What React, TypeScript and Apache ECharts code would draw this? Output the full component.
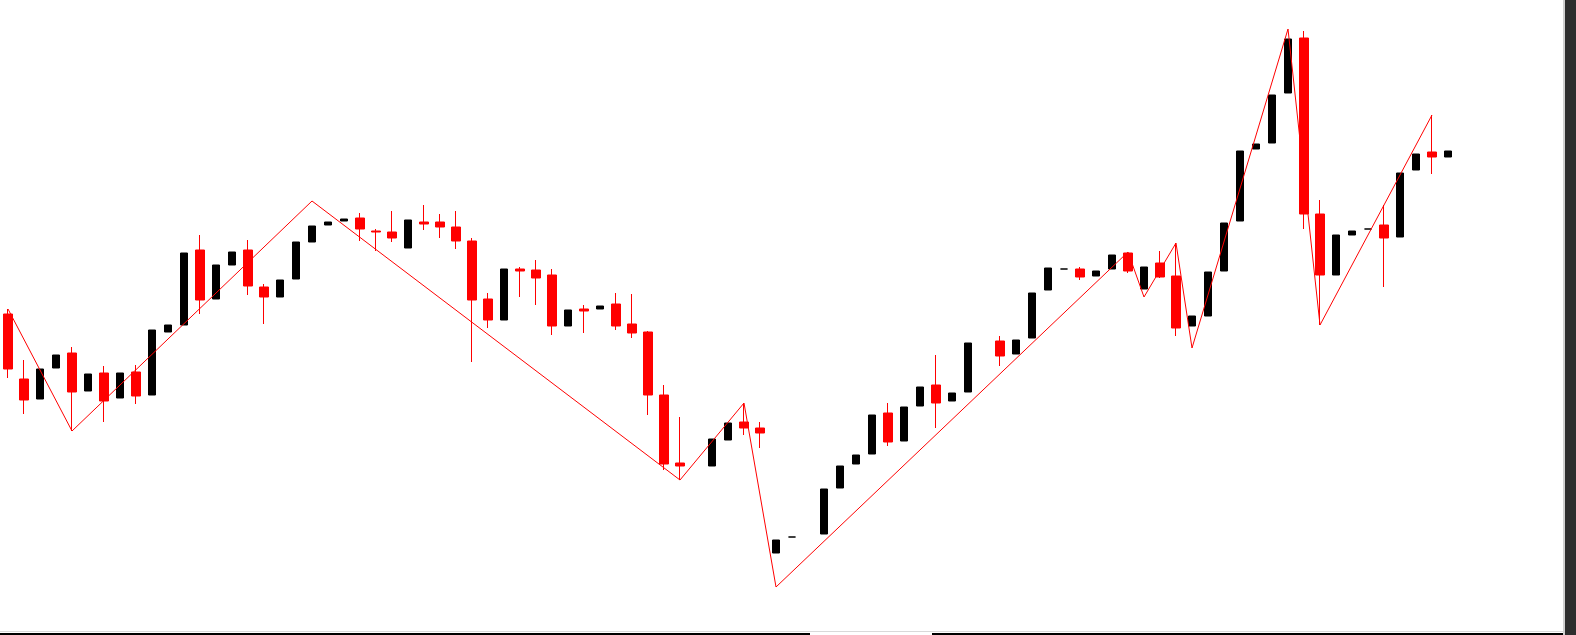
import { useEffect, useRef } from 'react';
import * as echarts from 'echarts';

// Bar prices (bar 0 = leftmost candle). null = no bar drawn at that slot.
const opens: (number | null)[] = [
  1.3321, 1.3256, 1.3236, 1.3267, 1.3282, 1.3244, 1.3262, 1.3237, 1.3263, 1.3240,
  1.3303, 1.3310, 1.3385, 1.3336, 1.3370, 1.3385, 1.3348, 1.3338, 1.3356, 1.3393,
  1.3410, 1.3414, 1.3417, 1.3404, 1.3403, 1.3387, 1.3413, 1.3413, 1.3408, 1.3394,
  1.3336, 1.3315, 1.3366, 1.3365, 1.3360, 1.3309, 1.3326, 1.3326, 1.3331, 1.3311,
  1.3303, 1.3240, 1.3172, null, 1.3169, 1.3195, 1.3213, 1.3207, 1.3082, 1.3098,
  null, 1.3101, 1.3147, 1.3171, 1.3181, 1.3222, 1.3194, 1.3229, 1.3250, 1.3234,
  1.3243, null, 1.3294, 1.3281, 1.3297, 1.3345, 1.3366, 1.3366, 1.3359, 1.3366,
  1.3382, 1.3346, 1.3372, 1.3359, 1.3309, 1.3319, 1.3364, 1.3414, 1.3486, 1.3492,
  1.3542, 1.3597, 1.3421, 1.3360, 1.3400, 1.3406, 1.3410, 1.3398, 1.3465, 1.3483,
  1.3478,
];
const closes: (number | null)[] = [
  1.3266, 1.3235, 1.3266, 1.3280, 1.3243, 1.3261, 1.3234, 1.3262, 1.3239, 1.3305,
  1.3310, 1.3382, 1.3335, 1.3370, 1.3383, 1.3349, 1.3338, 1.3355, 1.3393, 1.3409,
  1.3413, 1.3416, 1.3406, 1.3403, 1.3397, 1.3415, 1.3411, 1.3408, 1.3394, 1.3335,
  1.3315, 1.3366, 1.3364, 1.3357, 1.3309, 1.3325, 1.3324, 1.3329, 1.3309, 1.3302,
  1.3240, 1.3171, 1.3169, null, 1.3196, 1.3212, 1.3207, 1.3202, 1.3095, 1.3098,
  null, 1.3146, 1.3169, 1.3180, 1.3220, 1.3193, 1.3228, 1.3248, 1.3232, 1.3242,
  1.3292, null, 1.3279, 1.3295, 1.3342, 1.3367, 1.3366, 1.3358, 1.3364, 1.3380,
  1.3364, 1.3368, 1.3358, 1.3307, 1.3319, 1.3363, 1.3412, 1.3484, 1.3491, 1.3540,
  1.3596, 1.3421, 1.3360, 1.3400, 1.3404, 1.3406, 1.3397, 1.3462, 1.3481, 1.3478,
  1.3484,
];
// Wicks are only visible on falling (red) bars; null = not visible
const lows: (number | null)[] = [
  1.3257, 1.3221, null, null, 1.3204, null, 1.3213, null, 1.3231, null,
  null, null, 1.3321, null, null, 1.3340, 1.3311, null, null, null,
  null, null, 1.3394, 1.3384, 1.3393, null, 1.3405, 1.3397, 1.3386, 1.3273,
  1.3307, null, 1.3338, 1.3330, 1.3300, null, 1.3302, null, 1.3305, 1.3297,
  1.3220, 1.3165, 1.3155, null, null, null, 1.3200, 1.3187, null, null,
  null, null, null, null, null, 1.3189, null, null, 1.3207, null,
  null, null, 1.3269, null, null, null, null, 1.3355, null, null,
  1.3362, null, 1.3357, 1.3299, null, null, null, null, null, null,
  null, 1.3406, 1.3310, null, null, null, 1.3348, null, null, 1.3461,
  null,
];
const highs: (number | null)[] = [
  1.3326, 1.3275, null, null, 1.3288, null, 1.3269, null, 1.3270, null,
  null, null, 1.3400, null, null, 1.3395, 1.3351, null, null, null,
  null, null, 1.3422, 1.3406, 1.3424, null, 1.3430, 1.3421, 1.3424, 1.3397,
  1.3342, null, 1.3368, 1.3375, 1.3366, null, 1.3330, null, 1.3342, 1.3341,
  1.3304, 1.3250, 1.3218, null, null, null, 1.3232, 1.3213, null, null,
  null, null, null, null, null, 1.3232, null, null, 1.3280, null,
  null, null, 1.3299, null, null, null, null, 1.3368, null, null,
  1.3383, null, 1.3384, 1.3392, null, null, null, null, null, null,
  null, 1.3604, 1.3435, null, null, null, 1.3430, null, null, 1.3520,
  null,
];

// ZigZag turning points (bar index, price)
const zigzagBars = [0, 4, 19, 42, 46, 48, 70, 71, 73, 74, 80, 82, 89];
const zigzagPrices = [1.3326, 1.3204, 1.3434, 1.3155, 1.3232, 1.3048, 1.3383, 1.3338, 1.3392, 1.3287, 1.3606, 1.3310, 1.3520];

const PRICE_MIN = 1.3;
const PRICE_MAX = 1.3635;
const SLOT_COUNT = 97; // 91 bars + empty space on the right

export default function App() {
  const ref = useRef<HTMLDivElement>(null);

  useEffect(() => {
    const chart = echarts.init(ref.current!, null, { renderer: 'svg' });
    const categories = Array.from({ length: SLOT_COUNT }, (_, k) => String(k));
    const empty = () => ['-', '-', '-', '-'] as any[];
    const bull: any[] = categories.map(empty);
    const bear: any[] = categories.map(empty);
    opens.forEach((o, i) => {
      const c = closes[i];
      if (o == null || c == null) return;
      const lo = lows[i] ?? Math.min(o, c);
      const hi = highs[i] ?? Math.max(o, c);
      if (c >= o) bull[i] = [o, c, lo, hi];
      else bear[i] = [o, c, lo, hi];
    });
    const zig: any[] = categories.map(() => '-');
    zigzagBars.forEach((b, j) => {
      zig[b] = zigzagPrices[j];
    });

    chart.setOption({
      animation: false,
      backgroundColor: '#ffffff',
      grid: { left: 0, top: 0, right: 1576 - SLOT_COUNT * 16, bottom: 0 },
      xAxis: {
        type: 'category',
        data: categories,
        boundaryGap: true,
        axisLine: { show: false },
        axisTick: { show: false },
        axisLabel: { show: false },
        splitLine: { show: false },
      },
      yAxis: {
        type: 'value',
        min: PRICE_MIN,
        max: PRICE_MAX,
        axisLine: { show: false },
        axisTick: { show: false },
        axisLabel: { show: false },
        splitLine: { show: false },
      },
      series: [
        {
          type: 'candlestick',
          name: 'up',
          data: bull,
          barWidth: 8,
          itemStyle: { color: '#000000', color0: '#000000', borderColor: '#000000', borderColor0: '#000000', borderWidth: 1 },
          z: 2,
        },
        {
          type: 'candlestick',
          name: 'down',
          data: bear,
          barWidth: 10,
          itemStyle: { color: '#ff0000', color0: '#ff0000', borderColor: '#ff0000', borderColor0: '#ff0000', borderWidth: 1 },
          z: 2,
        },
        {
          type: 'line',
          name: 'ZigZag',
          data: zig,
          connectNulls: true,
          symbol: 'none',
          lineStyle: { color: '#ff0000', width: 1 },
          z: 3,
        },
      ],
      graphic: [
        { type: 'rect', shape: { x: 0, y: 631, width: 1563, height: 1 }, style: { fill: '#d9d9d9' } },
        { type: 'rect', shape: { x: 0, y: 633, width: 810, height: 2 }, style: { fill: '#000000' } },
        { type: 'rect', shape: { x: 932, y: 633, width: 631, height: 2 }, style: { fill: '#000000' } },
        { type: 'rect', shape: { x: 1563, y: 0, width: 2, height: 635 }, style: { fill: '#cfcfcf' } },
        { type: 'rect', shape: { x: 1565, y: 0, width: 11, height: 635 }, style: { fill: '#2e2e2e' } },
      ],
    });
    return () => chart.dispose();
  }, []);

  return (
    <div
      ref={ref}
      style={{ position: 'absolute', left: 0, top: 0, width: 1576, height: 635, background: '#ffffff' }}
    />
  );
}
